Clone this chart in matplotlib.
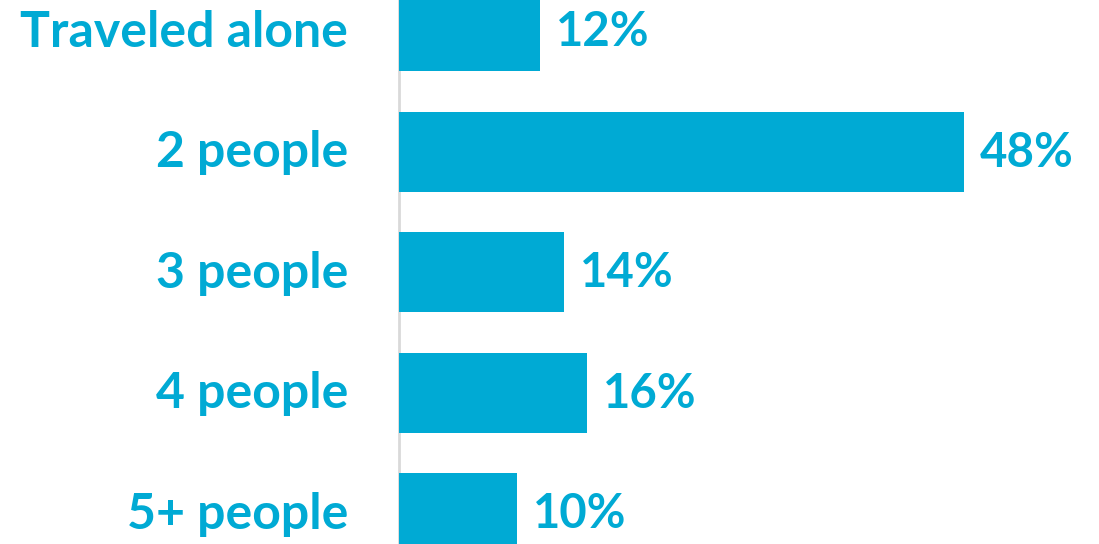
import matplotlib
matplotlib.use("Agg")
import matplotlib.pyplot as plt

# data
categories = ["Traveled alone", "2 people", "3 people", "4 people", "5+ people"]
shares = [12, 48, 14, 16, 10]

blue = "#00AAD4"
px_per_pct = 11.77

fig = plt.figure(figsize=(10.99, 5.44), dpi=100)
ax = fig.add_axes([0, 0, 1, 1])

ypos = list(range(len(categories)))
ax.barh(ypos, shares, height=80 / 120.5, color=blue, left=0)

ax.set_xlim(-399 / px_per_pct, (1099 - 399) / px_per_pct)
ax.set_ylim((544 - 31) / 120.5, -31 / 120.5)
ax.axvline(0, color="#D9D9D9", lw=2, zorder=0)

for y, cat, v in zip(ypos, categories, shares):
    ax.text(-51 / px_per_pct, y + 0.01, cat, ha="right", va="center", color=blue,
            fontsize=36, fontweight="bold", family=["Lato", "DejaVu Sans"])
    ax.text(v + 16 / px_per_pct, y + 0.01, f"{v}%", ha="left", va="center", color=blue,
            fontsize=34, fontweight="bold", family=["Lato", "DejaVu Sans"])

ax.axis("off")
fig.savefig("out.png", dpi=100)
